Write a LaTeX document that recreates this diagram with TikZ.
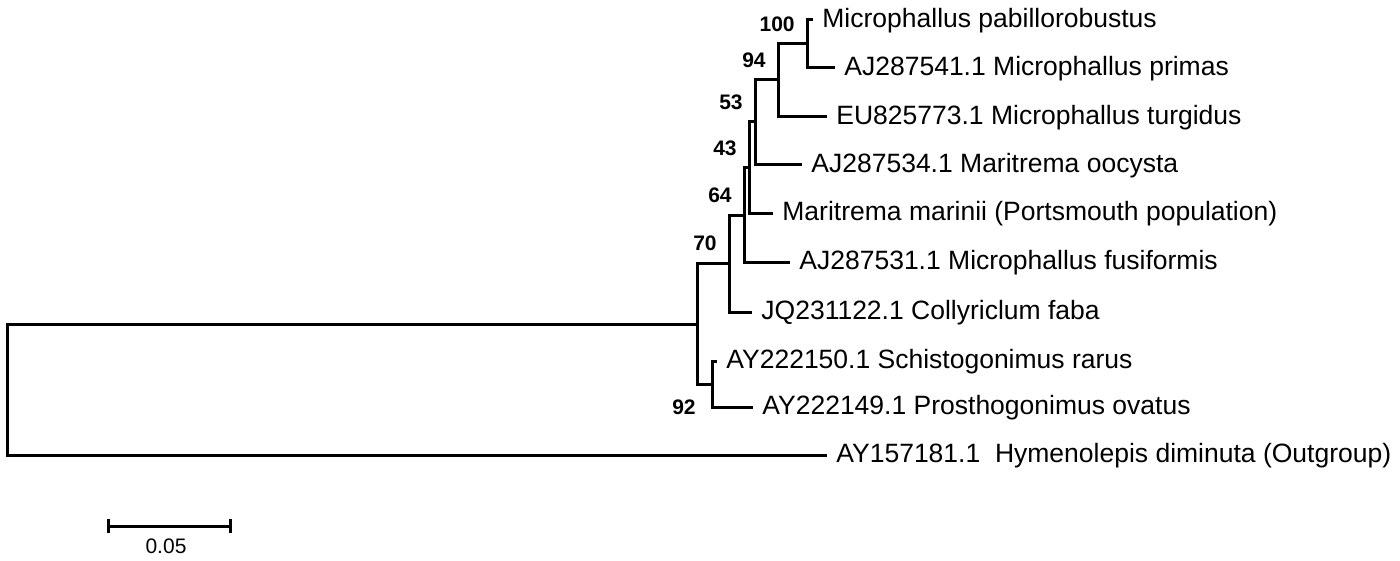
\documentclass[tikz,border=0pt]{standalone}
\usepackage{fontspec}
\setmainfont{Liberation Sans}

\begin{document}
\begin{tikzpicture}[x=.5pt,y=-.5pt,
  branch/.style={line width=1.5pt},
  taxon/.style={anchor=base west,inner xsep=4.5pt,yshift=-3.8pt,
    font=\fontsize{13.25pt}{15pt}\selectfont},
  boot/.style={inner sep=6pt,font=\fontsize{10.5pt}{12pt}\selectfont\bfseries}]
 \useasboundingbox (0,0) rectangle (1400,561);
 % tips and their labels
 \foreach \nm/\xp/\yp/\txt in {
   t1/813/20/Microphallus pabillorobustus,
   t2/835/68/AJ287541.1 Microphallus primas,
   t3/827/117/EU825773.1 Microphallus turgidus,
   t4/802/165/AJ287534.1 Maritrema oocysta,
   t5/773/213/Maritrema marinii (Portsmouth population),
   t6/790/262/AJ287531.1 Microphallus fusiformis,
   t7/752/312/JQ231122.1 Collyriclum faba,
   t8/717/361/AY222150.1 Schistogonimus rarus,
   t9/753/407/AY222149.1 Prosthogonimus ovatus,
   t10/827/455/AY157181.1\ \ Hymenolepis diminuta (Outgroup)%
 } {
   \coordinate (\nm) at (\xp,\yp);
   \node[taxon] (l\nm) at (\nm) {\txt};
 }
 % inner nodes
 \foreach \nm/\xp/\yp in {
   n100/807/44, n94/778/80, n53/755/122, n43/749/168,
   n64/744/215, n70/729/263, n92/712/384, nA/697/324,
   root/7/390%
 } {
   \coordinate (\nm) at (\xp,\yp);
 }
 % branches
 \foreach \a/\b in {
   n100/t1, n100/t2, n94/n100, n94/t3, n53/n94, n53/t4,
   n43/n53, n43/t5, n64/n43, n64/t6, n70/n64, n70/t7,
   n92/t8, n92/t9, nA/n70, nA/n92, root/nA, root/t10%
 } {
   \draw[branch] (\a) |- (\b);
 }
 % bootstrap values
 \foreach \nd/\bs in {
   n100/100, n94/94, n53/53, n43/43, n64/64, n70/70%
 } {
   \node[boot,anchor=south east] (b\bs) at (\nd) {\bs};
 }
 \node[boot,anchor=east,xshift=-2pt] (b92) at (n92 |- t9) {92};
 % scale bar
 \coordinate (s0) at (108,526);
 \coordinate (s1) at (230,526);
 \draw[branch] (s0) -- (s1);
 \draw[branch] ([yshift=3.5pt]s0) -- ([yshift=-3.5pt]s0);
 \draw[branch] ([yshift=3.5pt]s1) -- ([yshift=-3.5pt]s1);
 \node[font=\fontsize{10.5pt}{12pt}\selectfont] (sl) at (166,546) {0.05};
\end{tikzpicture}
\end{document}
